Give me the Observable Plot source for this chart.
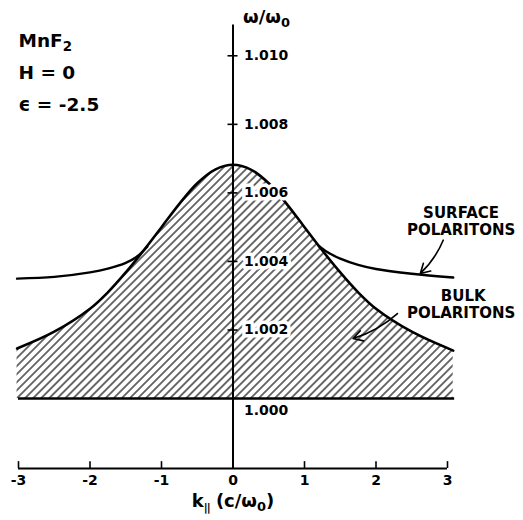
<!DOCTYPE html>
<html><head><meta charset="utf-8">
<script src="https://cdn.jsdelivr.net/npm/d3@7"></script>
<script src="https://cdn.jsdelivr.net/npm/@observablehq/plot@0.6"></script>
<style>body{margin:0;background:#fff} svg{display:block}</style>
</head><body><div id="chart"></div>
<script>
// Bulk polariton boundary (upper edge of hatched band), k in c/ω0, ω/ω0
const bulkK = [-3.02, -2.5, -2, -1.75, -1.5, -1.25, -1, -0.75, -0.5, -0.25, 0, 0.25, 0.5, 0.75, 1, 1.25, 1.5, 1.75, 2, 2.5, 3.08];
const bulkW = [1.00146, 1.00195, 1.00262, 1.0031, 1.00368, 1.00432, 1.005, 1.00568, 1.00628, 1.00668, 1.00682, 1.00668, 1.00628, 1.00568, 1.005, 1.00432, 1.00368, 1.0031, 1.00262, 1.00195, 1.0014];
// Surface polariton branches
const surfLK = [-3.02, -2.5, -2, -1.75, -1.5, -1.35, -1.2];
const surfLW = [1.0035, 1.00355, 1.00368, 1.00379, 1.00396, 1.00413, 1.00443];
const surfRK = [1.2, 1.3, 1.5, 1.75, 2, 2.5, 3.08];
const surfRW = [1.00445, 1.0043, 1.00408, 1.0039, 1.00378, 1.00364, 1.00353];
// Axes
const xTicks = [-3, -2, -1, 0, 1, 2, 3];
const xTickLabels = ["-3", "-2", "-1", "0", "1", "2", "3"];
const yTicks = [1.002, 1.004, 1.006, 1.008, 1.010];
const yTickLabels = ["1.002", "1.004", "1.006", "1.008", "1.010"];
const baseW = 1.000;
const axisW = 0.99796;
const yAxisTop = 1.0109;
// Annotations (data units)
const infoLines = ["MnF₂", "H = 0", "ϵ = -2.5"];
const infoW = [1.01044, 1.0095, 1.00857];
const labelText = ["SURFACE", "POLARITONS", "BULK", "POLARITONS"];
const labelK = [3.19, 3.19, 3.22, 3.19];
const labelW = [1.00542, 1.0049, 1.0030, 1.00248];
const arrowsK1 = [2.94, 2.30];
const arrowsW1 = [1.00462, 1.00248];
const arrowsK2 = [2.62, 1.68];
const arrowsW2 = [1.00365, 1.00175];

const bulk = bulkK.map((k, i) => ({k, w: bulkW[i]}));
const surfL = surfLK.map((k, i) => ({k, w: surfLW[i]}));
const surfR = surfRK.map((k, i) => ({k, w: surfRW[i]}));
const yt = yTicks.map((w, i) => ({w, label: yTickLabels[i]}));
const xt = xTicks.map((k, i) => ({k, label: xTickLabels[i]}));
const info = infoLines.map((t, i) => ({t, w: infoW[i]}));
const labels = labelText.map((t, i) => ({t, k: labelK[i], w: labelW[i]}));
const arrows = arrowsK1.map((k, i) => ({k1: k, w1: arrowsW1[i], k2: arrowsK2[i], w2: arrowsW2[i]}));

const curve = "catmull-rom";
const chart = Plot.plot({
  width: 523, height: 520,
  marginLeft: 18, marginRight: 76, marginTop: 21, marginBottom: 52,
  x: {domain: [-3, 3], axis: null},
  y: {domain: [axisW, 1.011], axis: null},
  style: {fontFamily: "DejaVu Sans", background: "white", overflow: "visible", color: "black"},
  marks: [
    Plot.areaY(bulk, {x: "k", y1: baseW, y2: "w", fill: "url(#hatch)", curve}),
    Plot.ruleY([{w: baseW}], {y: "w", x1: -3, x2: 3.1, stroke: "black", strokeWidth: 2.4}),
    Plot.line(bulk, {x: "k", y: "w", curve, stroke: "black", strokeWidth: 2.6}),
    Plot.line(surfL, {x: "k", y: "w", curve, stroke: "black", strokeWidth: 2.4}),
    Plot.line(surfR, {x: "k", y: "w", curve, stroke: "black", strokeWidth: 2.4}),
    // y axis
    Plot.ruleX([0], {y1: axisW, y2: yAxisTop, stroke: "black", strokeWidth: 2}),
    Plot.ruleY(yt, {y: "w", x1: -0.07, x2: 0.07, stroke: "black", strokeWidth: 1.6}),
    Plot.text(yt, {x: 0, y: "w", text: "label", dx: 11, textAnchor: "start", fontSize: 14, fontWeight: "bold", letterSpacing: 1, stroke: "white", strokeWidth: 7, fill: "black"}),
    Plot.text([{w: baseW}], {x: 0, y: "w", text: () => "1.000", dx: 11, dy: 12, textAnchor: "start", fontSize: 14, fontWeight: "bold", letterSpacing: 1, fill: "black"}),
    Plot.text([{w: 1.01111}], {x: 0, y: "w", text: () => "ω/ω₀", dx: 10, textAnchor: "start", fontSize: 18, fontWeight: "bold", letterSpacing: 3, fill: "black"}),
    // x axis
    Plot.ruleY([{w: axisW}], {y: "w", x1: -3, x2: 3, stroke: "black", strokeWidth: 2}),
    Plot.ruleX(xt, {x: "k", y1: axisW, y2: axisW + 0.0002, stroke: "black", strokeWidth: 1.6}),
    Plot.text(xt, {x: "k", y: axisW, text: "label", dy: 12, fontSize: 14, fontWeight: "bold", fill: "black"}),
    Plot.text([0], {x: 0, y: axisW, text: () => "k∥ (c/ω₀)", dy: 33, fontSize: 18, fontWeight: "bold", letterSpacing: 2.5, fill: "black"}),
    // annotations
    Plot.text(info, {x: -3, y: "w", text: "t", textAnchor: "start", fontSize: 18.5, fontWeight: "bold", letterSpacing: 0.5, fill: "black"}),
    Plot.text(labels, {x: "k", y: "w", text: "t", fontSize: 15, fontWeight: "bold", letterSpacing: 1.2, fill: "black"}),
    Plot.arrow(arrows, {x1: "k1", y1: "w1", x2: "k2", y2: "w2", bend: 12, headLength: 10, stroke: "black", strokeWidth: 1.6})
  ]
});

const svg = d3.select(chart);
const defs = svg.insert("defs", ":first-child");
const pat = defs.append("pattern").attr("id", "hatch")
  .attr("patternUnits", "userSpaceOnUse")
  .attr("width", 5.7).attr("height", 10)
  .attr("patternTransform", "rotate(45)");
pat.append("line").attr("x1", 2.85).attr("y1", -1).attr("x2", 2.85).attr("y2", 11)
  .attr("stroke", "black").attr("stroke-width", 1.15);

// render subscript characters as lowered, smaller tspans
const subs = {"₀": "0", "₂": "2", "∥": "||"};
svg.selectAll("text").each(function () {
  const s = this.textContent;
  if (!/[₀₂∥]/.test(s)) return;
  const t = d3.select(this);
  t.text(null);
  let buf = "", lowered = false;
  const flush = () => { if (buf) { t.append("tspan").attr("dy", lowered ? -4 : null).text(buf); lowered = false; buf = ""; } };
  for (const ch of s) {
    if (subs[ch]) {
      flush();
      t.append("tspan").attr("font-size", ch === "∥" ? "0.6em" : "0.72em").attr("dy", 4)
        .attr("letter-spacing", ch === "∥" ? -1 : null).text(subs[ch]);
      lowered = true;
    } else buf += ch;
  }
  if (buf) flush();
});

document.getElementById("chart").appendChild(chart);
</script>
</body></html>
